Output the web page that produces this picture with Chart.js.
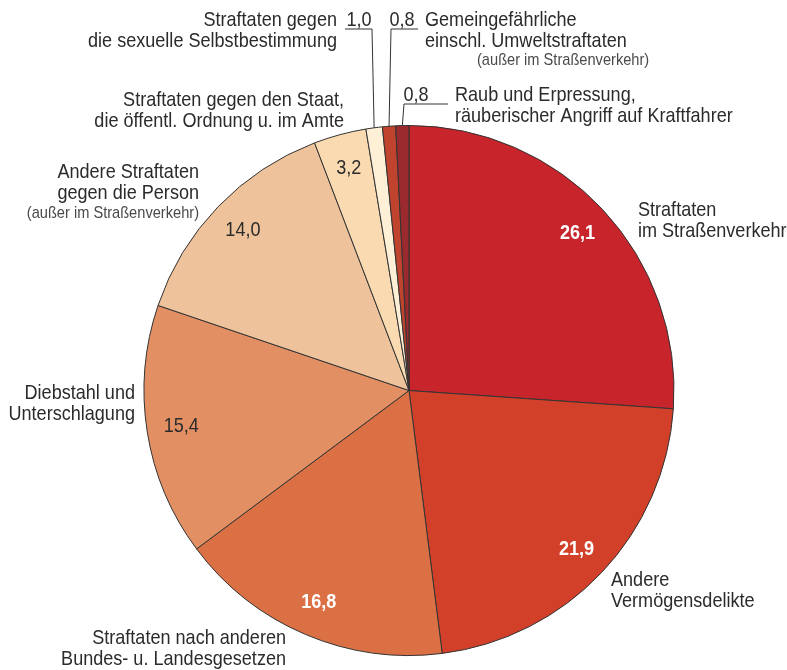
<!DOCTYPE html>
<html>
<head>
<meta charset="utf-8">
<script src="https://cdn.jsdelivr.net/npm/chart.js@4"></script>
<style>
  body { margin: 0; background: #fff; }
  canvas { display: block; }
</style>
</head>
<body>
<canvas id="pieChart" width="787" height="670"></canvas>
<script>
// Anteile der Straftatengruppen in %
const categories = [
    'Straftaten im Straßenverkehr',
    'Andere Vermögensdelikte',
    'Straftaten nach anderen Bundes- u. Landesgesetzen',
    'Diebstahl und Unterschlagung',
    'Andere Straftaten gegen die Person (außer im Straßenverkehr)',
    'Straftaten gegen den Staat, die öffentl. Ordnung u. im Amte',
    'Straftaten gegen die sexuelle Selbstbestimmung',
    'Gemeingefährliche einschl. Umweltstraftaten (außer im Straßenverkehr)',
    'Raub und Erpressung, räuberischer Angriff auf Kraftfahrer'
];
const shares = [26.1, 21.9, 16.8, 15.4, 14.0, 3.2, 1.0, 0.8, 0.8];
const labelLines = [
    ['Straftaten', 'im Straßenverkehr'],
    ['Andere', 'Vermögensdelikte'],
    ['Straftaten nach anderen', 'Bundes- u. Landesgesetzen'],
    ['Diebstahl und', 'Unterschlagung'],
    ['Andere Straftaten', 'gegen die Person'],
    ['Straftaten gegen den Staat,', 'die öffentl. Ordnung u. im Amte'],
    ['Straftaten gegen', 'die sexuelle Selbstbestimmung'],
    ['Gemeingefährliche', 'einschl. Umweltstraftaten'],
    ['Raub und Erpressung,', 'räuberischer Angriff auf Kraftfahrer']
];
const noteText = '(außer im Straßenverkehr)';

const sliceColors = ['#C8242C', '#D2402A', '#DB7044', '#E28F63', '#EEC29A', '#FADAB0', '#FEF0D6', '#C0432E', '#9A2A2E'];

// no narrow font installed -> squeeze Liberation Sans horizontally
const FONT = '"Liberation Sans", Arial, sans-serif';
const SQUEEZE = 0.86;
const TEXT = '#2b2b2b';

// where the names go (x, first line centre, alignment) and how the value is shown
const layout = [
    { x: 638, y: 210, align: 'left', value: 'white' },
    { x: 611, y: 580, align: 'left', value: 'white' },
    { x: 286, y: 638, align: 'right', value: 'white' },
    { x: 135, y: 393, align: 'right', value: 'dark' },
    { x: 199, y: 172, align: 'right', value: 'dark', note: { x: 199, y: 213, align: 'right' } },
    { x: 344, y: 100, align: 'right', value: 'dark' },
    { x: 337, y: 20, align: 'right', callout: { cx: 359, cy: 20, x1: 345, x2: 372, ly: 29, from: 372 } },
    { x: 425, y: 20, align: 'left', callout: { cx: 402, cy: 20, x1: 391, x2: 418, ly: 29, from: 391 }, note: { x: 477, y: 60, align: 'left' } },
    { x: 455, y: 95, align: 'left', callout: { cx: 416, cy: 95, x1: 404, x2: 448, ly: 104, from: 404 } }
];

const fmt = v => v.toFixed(1).replace('.', ',');

function narrowText(ctx, text, x, y, align, font, color) {
    ctx.save();
    ctx.font = font;
    ctx.fillStyle = color;
    ctx.textAlign = align;
    ctx.textBaseline = 'middle';
    ctx.translate(x, y);
    ctx.scale(SQUEEZE, 1);
    ctx.fillText(text, 0, 0);
    ctx.restore();
}

const labelPlugin = {
    id: 'sliceLabels',
    afterDatasetsDraw(chart) {
        const ctx = chart.ctx;
        const meta = chart.getDatasetMeta(0);
        meta.data.forEach((arc, i) => {
            const p = arc.getProps(['x', 'y', 'startAngle', 'endAngle', 'outerRadius'], true);
            const mid = (p.startAngle + p.endAngle) / 2;
            const cfg = layout[i];

            // names
            labelLines[i].forEach((line, k) => {
                narrowText(ctx, line, cfg.x, cfg.y + k * 21, cfg.align, '21px ' + FONT, TEXT);
            });
            if (cfg.note) {
                narrowText(ctx, noteText, cfg.note.x, cfg.note.y, cfg.note.align, '17px ' + FONT, '#4a4a4a');
            }

            // values
            if (cfg.callout) {
                const c = cfg.callout;
                narrowText(ctx, fmt(shares[i]), c.cx, c.cy, 'center', '21px ' + FONT, TEXT);
                const ex = p.x + Math.cos(mid) * p.outerRadius;
                const ey = p.y + Math.sin(mid) * p.outerRadius;
                ctx.save();
                ctx.strokeStyle = '#333';
                ctx.lineWidth = 1;
                ctx.beginPath();
                ctx.moveTo(c.x2, c.ly);
                ctx.lineTo(c.x1, c.ly);
                ctx.moveTo(c.from, c.ly);
                ctx.lineTo(ex, ey);
                ctx.stroke();
                ctx.restore();
            } else {
                const r = p.outerRadius * 0.87;
                const vx = p.x + Math.cos(mid) * r;
                const vy = p.y + Math.sin(mid) * r;
                if (cfg.value === 'white') {
                    narrowText(ctx, fmt(shares[i]), vx, vy, 'center', 'bold 21px ' + FONT, '#fff');
                } else {
                    narrowText(ctx, fmt(shares[i]), vx, vy, 'center', '21px ' + FONT, TEXT);
                }
            }
        });
    }
};

new Chart(document.getElementById('pieChart'), {
    type: 'pie',
    data: {
        labels: categories,
        datasets: [{
            data: shares,
            backgroundColor: sliceColors,
            borderColor: '#333',
            borderWidth: 1
        }]
    },
    options: {
        responsive: false,
        animation: false,
        layout: { padding: { top: 125, bottom: 14, left: 140, right: 109 } },
        plugins: {
            legend: { display: false },
            tooltip: { enabled: false }
        }
    },
    plugins: [labelPlugin]
});
</script>
</body>
</html>
